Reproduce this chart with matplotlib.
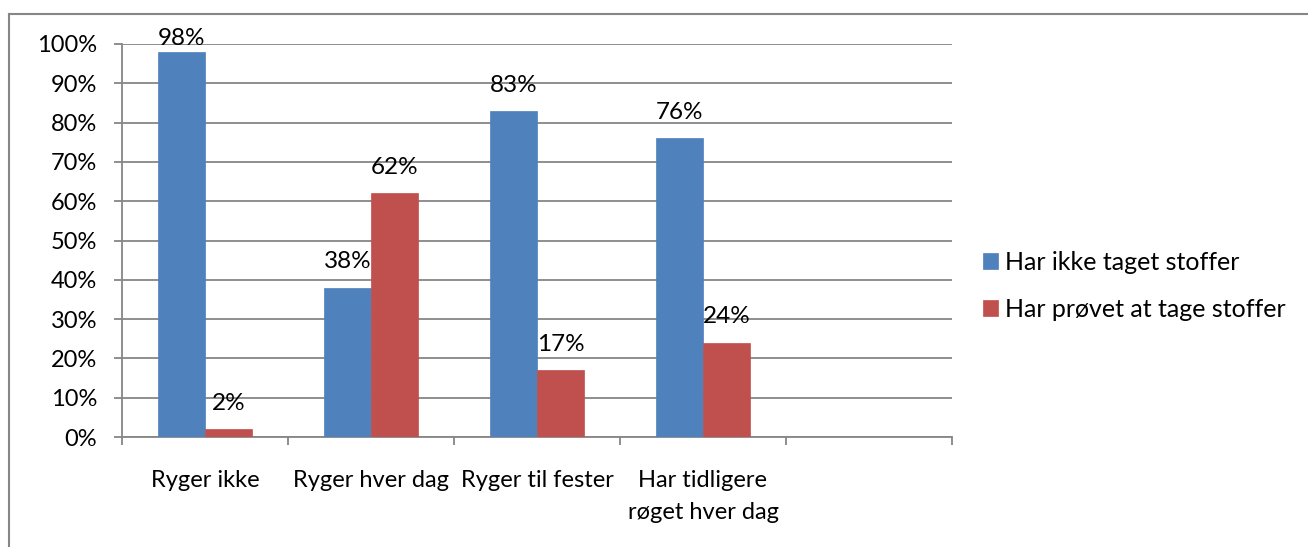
import matplotlib
matplotlib.use("Agg")
import matplotlib.pyplot as plt
from matplotlib.lines import Line2D
import numpy as np

categories = ["Ryger ikke", "Ryger hver dag", "Ryger til fester", "Har tidligere\nrøget hver dag", ""]
series_names = ["Har ikke taget stoffer", "Har prøvet at tage stoffer"]
not_taken = [98, 38, 83, 76, None]
tried = [2, 62, 17, 24, None]
yticks = [0, 10, 20, 30, 40, 50, 60, 70, 80, 90, 100]

plt.rcParams['font.family'] = ['Lato', 'DejaVu Sans']
W, H = 1308, 547
fig = plt.figure(figsize=(W / 100, H / 100), dpi=100)
ax = fig.add_axes([122 / W, 1 - 437 / H, (952 - 122) / W, (437 - 44) / H])

grey = "#868686"
colors = ["#4F81BD", "#C0504D"]
bw = 47 / 166
label_gap = 4.9      # label baseline above bar top, in data units
label_max = 99.7     # labels are kept inside the plot area
x = np.arange(len(categories))
for i, (vals, col, name) in enumerate(zip([not_taken, tried], colors, series_names)):
    xs = [xi + (i - 0.5) * bw for xi, v in zip(x, vals) if v is not None]
    vs = [v for v in vals if v is not None]
    ax.bar(xs, vs, width=bw, color=col, label=name, zorder=3,
           edgecolor=col, linewidth=0.5)
    for xb, v in zip(xs, vs):
        ax.text(xb, min(v + label_gap, label_max), f"{v}%", ha="center", va="baseline",
                fontsize=17.5, color="#000000", zorder=4)

ax.set_xlim(-0.5, len(categories) - 0.5)
ax.set_ylim(0, 100)
ax.set_yticks(yticks)
ax.set_yticklabels([f"{t}%" for t in yticks], fontsize=17)
ax.yaxis.grid(True, color=grey, linewidth=1.3, zorder=0)
ax.set_axisbelow(True)

ax.set_xticks(np.arange(len(categories) + 1) - 0.5)
ax.set_xticklabels([])
ax.set_xticks(x, minor=True)
ax.set_xticklabels(categories, minor=True, fontsize=17, linespacing=1.6)
ax.tick_params(axis="x", which="major", length=6, width=1.3, color=grey, direction="out")
ax.tick_params(axis="x", which="minor", length=0, pad=24)
ax.tick_params(axis="y", length=6, width=1.3, color=grey, direction="out", pad=12)

for s in ["top", "right"]:
    ax.spines[s].set_visible(False)
for s in ["left", "bottom"]:
    ax.spines[s].set_color(grey)
    ax.spines[s].set_linewidth(1.3)

# chart outer border (left and top visible)
fig.add_artist(Line2D([8.5 / W, 8.5 / W], [0, 1 - 14 / H], transform=fig.transFigure,
                      color=grey, linewidth=1.5))
fig.add_artist(Line2D([8.5 / W, 1], [1 - 14 / H, 1 - 14 / H], transform=fig.transFigure,
                      color=grey, linewidth=1.5))

fig.legend(loc="center left", bbox_to_anchor=(983 / W, 1 - 286 / H), frameon=False,
           fontsize=18, handlelength=0.6, handleheight=0.6, handletextpad=0.3,
           labelspacing=0.95, borderaxespad=0, borderpad=0)

fig.savefig("out.png", dpi=100, facecolor="white")
